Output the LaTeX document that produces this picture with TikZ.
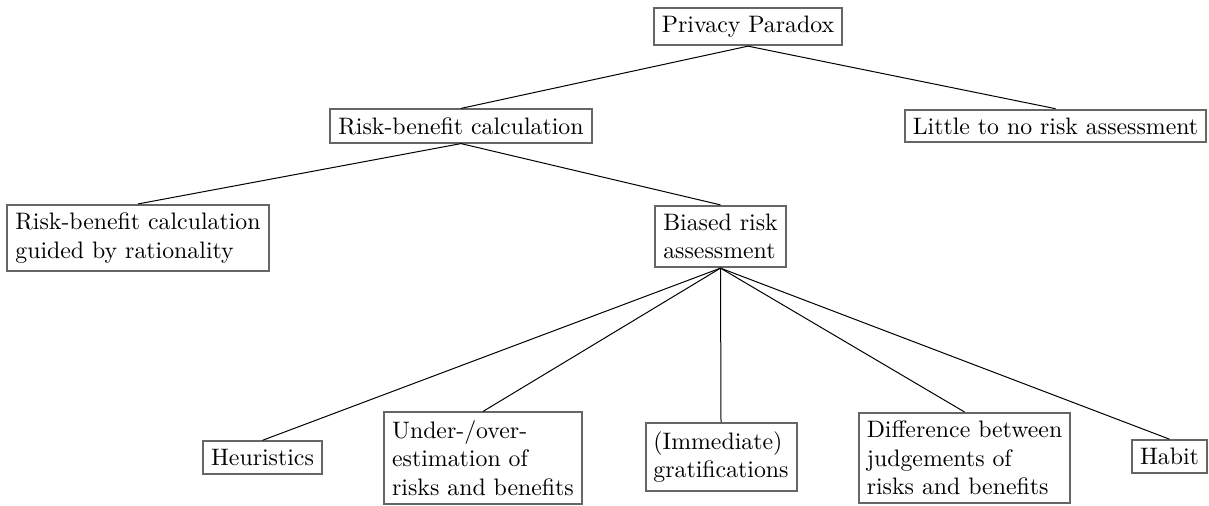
\documentclass[tikz,border=0pt]{standalone}
\begin{document}
\begin{tikzpicture}[x=0.42pt,y=-0.42pt,
  box/.style={draw=black!60,line width=0.84pt,align=left},
  edge/.style={draw=black,line width=0.42pt}]
\useasboundingbox (0,0) rectangle (1209,505);
\node[box] (pp)  at (748,26.5)  {Privacy Paradox};
\node[box] (rbc) at (461,126) {Risk-benefit calculation};
\node[box] (lnr) at (1055.5,126) {Little to no risk assessment};
\node[box] (rat) at (138,238) {Risk-benefit calculation\\guided by rationality};
\node[box] (bra) at (720.5,236.5) {Biased risk\\assessment};
\node[box] (heu) at (262.5,457.5) {Heuristics};
\node[box] (uoe) at (483,458) {Under-/over-\\estimation of\\risks and benefits};
\node[box] (img) at (721,457) {(Immediate)\\gratifications};
\node[box] (dif) at (964.5,458) {Difference between\\judgements of\\risks and benefits};
\node[box] (hab) at (1169.5,456.5) {Habit};
\draw[edge] (pp.south) -- (rbc.north);
\draw[edge] (pp.south) -- (lnr.north);
\draw[edge] (rbc.south) -- (rat.north);
\draw[edge] (rbc.south) -- (bra.north);
\foreach \c in {heu,uoe,img,dif,hab}
  \draw[edge] (bra.south) -- (\c.north);
\end{tikzpicture}
\end{document}
